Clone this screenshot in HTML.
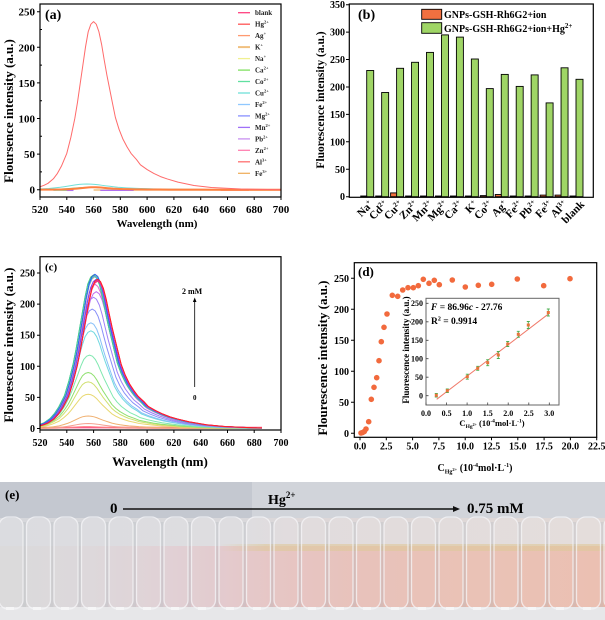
<!DOCTYPE html>
<html><head><meta charset="utf-8"><style>
html,body{margin:0;padding:0;background:#fff;width:605px;height:620px;overflow:hidden}
svg{display:block}
</style></head><body>
<svg width="605" height="620" viewBox="0 0 605 620" xmlns="http://www.w3.org/2000/svg" font-family="'Liberation Serif', serif" font-weight="bold">
<defs>
<clipPath id="ca"><rect x="40" y="4" width="241" height="193"/></clipPath>
<clipPath id="cc"><rect x="40" y="256.7" width="222" height="173.3"/></clipPath>
<linearGradient id="liq" x1="0" x2="1" y1="0" y2="0">
<stop offset="0" stop-color="#d5d4d5"/><stop offset="0.15" stop-color="#d8d2d5"/><stop offset="0.26" stop-color="#dbcbd0"/><stop offset="0.36" stop-color="#dfc3c7"/><stop offset="0.45" stop-color="#e2bdbc"/><stop offset="0.6" stop-color="#e5b9b0"/><stop offset="0.8" stop-color="#e7b8aa"/><stop offset="1" stop-color="#e8b6a6"/>
</linearGradient>
<linearGradient id="upp" x1="0" x2="1" y1="0" y2="0">
<stop offset="0" stop-color="#d6d7db"/><stop offset="0.4" stop-color="#d9d8db"/><stop offset="0.5" stop-color="#ddd7d8"/><stop offset="1" stop-color="#e0d8d6"/>
</linearGradient>
<linearGradient id="yb" x1="0" x2="1" y1="0" y2="0">
<stop offset="0" stop-color="#d9c08a" stop-opacity="0"/><stop offset="0.12" stop-color="#d9c08a" stop-opacity="0.6"/><stop offset="1" stop-color="#d9c08a" stop-opacity="0.6"/>
</linearGradient>
</defs>

<!-- ================= PANEL (a) ================= -->
<g clip-path="url(#ca)" fill="none" stroke-linejoin="round">
<line x1="93.6" y1="190" x2="281" y2="190" stroke="#f0c080" stroke-width="1.5"/>
<line x1="220.8" y1="190" x2="248.9" y2="190" stroke="#ff6060" stroke-width="1.5"/>
<line x1="53.4" y1="190" x2="73.5" y2="190" stroke="#40c080" stroke-width="1.5"/>
<line x1="66.8" y1="190.4" x2="73.5" y2="190.4" stroke="#b070f0" stroke-width="1.3"/>
<line x1="100.3" y1="190.4" x2="133.7" y2="190.4" stroke="#b070f0" stroke-width="1.3"/>
<path d="M-60 0L-50-.006L-44-.011L-40-.017L-37-.026L-34-.038L-30-.065L-27-.097L-24-.14L-20-.216L-17-.31L-14-.424L-12-.52L-10-.631L-8-.74L-6-.85L-4-.94L-2-.985L0-1L2-.985L4-.94L6-.865L8-.77L10-.68L12-.6L14-.52L16.3-.43L19-.36L22-.3L25-.255L28-.216L32-.18L35-.148L40-.12L45-.097L50-.078L55-.064L63-.045L75-.025L88-.013L110-.004L140 0L200 0" transform="translate(86.87,189.7) scale(1.9,5.7)" stroke="#70e0d8" vector-effect="non-scaling-stroke"/>
<path d="M-60 0L-50-.006L-44-.011L-40-.017L-37-.026L-34-.038L-30-.065L-27-.097L-24-.14L-20-.216L-17-.31L-14-.424L-12-.52L-10-.631L-8-.74L-6-.85L-4-.94L-2-.985L0-1L2-.985L4-.94L6-.865L8-.77L10-.68L12-.6L14-.52L16.3-.43L19-.36L22-.3L25-.255L28-.216L32-.18L35-.148L40-.12L45-.097L50-.078L55-.064L63-.045L75-.025L88-.013L110-.004L140 0L200 0" transform="translate(88.2,189.7) scale(1.6,2.3)" stroke="#70d070" vector-effect="non-scaling-stroke"/>
<path d="M-60 0L-50-.006L-44-.011L-40-.017L-37-.026L-34-.038L-30-.065L-27-.097L-24-.14L-20-.216L-17-.31L-14-.424L-12-.52L-10-.631L-8-.74L-6-.85L-4-.94L-2-.985L0-1L2-.985L4-.94L6-.865L8-.77L10-.68L12-.6L14-.52L16.3-.43L19-.36L22-.3L25-.255L28-.216L32-.18L35-.148L40-.12L45-.097L50-.078L55-.064L63-.045L75-.025L88-.013L110-.004L140 0L200 0" transform="translate(93.56,189.7) scale(1.2,2.5)" stroke="#ff8040" stroke-width="2" vector-effect="non-scaling-stroke"/>
<path d="M-60 0L-50-.006L-44-.011L-40-.017L-37-.026L-34-.038L-30-.065L-27-.097L-24-.14L-20-.216L-17-.31L-14-.424L-12-.52L-10-.631L-8-.74L-6-.85L-4-.94L-2-.985L0-1L2-.985L4-.94L6-.865L8-.77L10-.68L12-.6L14-.52L16.3-.43L19-.36L22-.3L25-.255L28-.216L32-.18L35-.148L40-.12L45-.097L50-.078L55-.064L63-.045L75-.025L88-.013L110-.004L140 0L200 0" transform="translate(93.56,189.7) scale(1.339,168.03)" stroke="#ff6a6a" vector-effect="non-scaling-stroke"/>
</g>
<rect x="40" y="4" width="241" height="193" fill="none" stroke="#000" stroke-width="1.2"/>
<path d="M37 189.7H40M37 154.1H40M37 118.5H40M37 82.9H40M37 47.3H40M37 11.7H40M40 171.9H42M40 136.3H42M40 100.7H42M40 65.1H42M40 29.5H42M40 197V200M66.8 197V200M93.6 197V200M120.3 197V200M147.1 197V200M173.9 197V200M200.7 197V200M227.5 197V200M254.2 197V200M281 197V200" stroke="#000" stroke-width="1"/>
<g font-size="11" text-anchor="end">
<text x="35" y="193.7">0</text><text x="35" y="158.1">50</text><text x="35" y="122.5">100</text><text x="35" y="86.9">150</text><text x="35" y="51.3">200</text><text x="35" y="15.7">250</text>
</g>
<g font-size="11" text-anchor="middle">
<text x="40" y="213">520</text><text x="66.8" y="213">540</text><text x="93.6" y="213">560</text><text x="120.3" y="213">580</text><text x="147.1" y="213">600</text><text x="173.9" y="213">620</text><text x="200.7" y="213">640</text><text x="227.5" y="213">660</text><text x="254.2" y="213">680</text><text x="281" y="213">700</text>
</g>
<text x="157" y="227" font-size="11" text-anchor="middle">Wavelength (nm)</text>
<text transform="translate(13,111) rotate(-90)" font-size="13" text-anchor="middle">Floursence intensity (a.u.)</text>
<text x="45" y="19" font-size="14">(a)</text>
<!-- legend (a) -->
<g stroke-width="1.3" fill="none">
<line x1="238" y1="12.7" x2="250" y2="12.7" stroke="#ff4080"/>
<line x1="238" y1="24.2" x2="250" y2="24.2" stroke="#ff5555"/>
<line x1="238" y1="35.6" x2="250" y2="35.6" stroke="#ff9a70"/>
<line x1="238" y1="47.1" x2="250" y2="47.1" stroke="#f0c080" stroke-width="2"/>
<line x1="238" y1="58.6" x2="250" y2="58.6" stroke="#f0f090"/>
<line x1="238" y1="70.1" x2="250" y2="70.1" stroke="#80e060"/>
<line x1="238" y1="81.5" x2="250" y2="81.5" stroke="#60e0a0"/>
<line x1="238" y1="93" x2="250" y2="93" stroke="#70e0d8"/>
<line x1="238" y1="104.5" x2="250" y2="104.5" stroke="#90c8ff"/>
<line x1="238" y1="115.9" x2="250" y2="115.9" stroke="#8890ff"/>
<line x1="238" y1="127.4" x2="250" y2="127.4" stroke="#a070f8"/>
<line x1="238" y1="138.9" x2="250" y2="138.9" stroke="#c890f0"/>
<line x1="238" y1="150.3" x2="250" y2="150.3" stroke="#ff80b0"/>
<line x1="238" y1="161.8" x2="250" y2="161.8" stroke="#ff7070"/>
<line x1="238" y1="173.3" x2="250" y2="173.3" stroke="#f0b060"/>
</g>
<g font-size="7" fill="#222">
<text x="255" y="15.2">blank</text>
<text x="255" y="26.7">Hg<tspan dy="-3" font-size="4.5">2+</tspan></text>
<text x="255" y="38.1">Ag<tspan dy="-3" font-size="4.5">+</tspan></text>
<text x="255" y="49.6">K<tspan dy="-3" font-size="4.5">+</tspan></text>
<text x="255" y="61.1">Na<tspan dy="-3" font-size="4.5">+</tspan></text>
<text x="255" y="72.6">Ca<tspan dy="-3" font-size="4.5">2+</tspan></text>
<text x="255" y="84">Co<tspan dy="-3" font-size="4.5">2+</tspan></text>
<text x="255" y="95.5">Cu<tspan dy="-3" font-size="4.5">2+</tspan></text>
<text x="255" y="107">Fe<tspan dy="-3" font-size="4.5">2+</tspan></text>
<text x="255" y="118.4">Mg<tspan dy="-3" font-size="4.5">2+</tspan></text>
<text x="255" y="129.9">Mn<tspan dy="-3" font-size="4.5">2+</tspan></text>
<text x="255" y="141.4">Pb<tspan dy="-3" font-size="4.5">2+</tspan></text>
<text x="255" y="152.8">Zn<tspan dy="-3" font-size="4.5">2+</tspan></text>
<text x="255" y="164.3">Al<tspan dy="-3" font-size="4.5">3+</tspan></text>
<text x="255" y="175.8">Fe<tspan dy="-3" font-size="4.5">3+</tspan></text>
</g>

<!-- ================= PANEL (b) ================= -->
<g stroke="#000" stroke-width="0.9" fill="#9fd566">
<rect x="366.7" y="70.5" width="7" height="126.2"/>
<rect x="381.65" y="92.5" width="7" height="104.2"/>
<rect x="396.6" y="68.3" width="7" height="128.4"/>
<rect x="411.55" y="62.3" width="7" height="134.4"/>
<rect x="426.5" y="52.4" width="7" height="144.3"/>
<rect x="441.45" y="34.9" width="7" height="161.8"/>
<rect x="456.4" y="37.1" width="7" height="159.6"/>
<rect x="471.35" y="59" width="7" height="137.7"/>
<rect x="486.3" y="88.6" width="7" height="108.1"/>
<rect x="501.25" y="74.4" width="7" height="122.3"/>
<rect x="516.2" y="86.4" width="7" height="110.3"/>
<rect x="531.15" y="74.9" width="7" height="121.8"/>
<rect x="546.1" y="102.9" width="7" height="93.8"/>
<rect x="561.05" y="67.8" width="7" height="128.9"/>
<rect x="576" y="79.3" width="7" height="117.4"/>
</g>
<g stroke="#000" stroke-width="0.9" fill="#f07040">
<rect x="360.7" y="196" width="6" height="0.7"/>
<rect x="375.65" y="196" width="6" height="0.7"/>
<rect x="390.6" y="192.9" width="6" height="3.8"/>
<rect x="405.55" y="196" width="6" height="0.7"/>
<rect x="420.5" y="196" width="6" height="0.7"/>
<rect x="435.45" y="196" width="6" height="0.7"/>
<rect x="450.4" y="196" width="6" height="0.7"/>
<rect x="465.35" y="196" width="6" height="0.7"/>
<rect x="480.3" y="195.6" width="6" height="1.1"/>
<rect x="495.25" y="194.5" width="6" height="2.2"/>
<rect x="510.2" y="196" width="6" height="0.7"/>
<rect x="525.15" y="196" width="6" height="0.7"/>
<rect x="540.1" y="195.1" width="6" height="1.6"/>
<rect x="555.05" y="195.1" width="6" height="1.6"/>
<rect x="570" y="196" width="6" height="0.7"/>
</g>
<rect x="349.3" y="4" width="244" height="193.3" fill="none" stroke="#000" stroke-width="1.2"/>
<path d="M346 196.7H349.3M346 169.3H349.3M346 141.8H349.3M346 114.4H349.3M346 87H349.3M346 59.5H349.3M346 32.1H349.3M346 4.7H349.3" stroke="#000" stroke-width="1"/>
<g font-size="10" text-anchor="end">
<text x="345" y="200.2">0</text><text x="345" y="172.8">50</text><text x="345" y="145.3">100</text><text x="345" y="117.9">150</text><text x="345" y="90.5">200</text><text x="345" y="63">250</text><text x="345" y="35.6">300</text><text x="345" y="8.2">350</text>
</g>
<text transform="translate(324,100) rotate(-90)" font-size="11.5" text-anchor="middle">Fluorescence intensity (a.u.)</text>
<text x="358" y="19" font-size="14">(b)</text>
<rect x="421.7" y="9.3" width="20" height="10" fill="#f07040" stroke="#000" stroke-width="0.9"/>
<rect x="421.7" y="22.7" width="20" height="10.6" fill="#9fd566" stroke="#000" stroke-width="0.9"/>
<text x="444" y="18" font-size="10">GNPs-GSH-Rh6G2+ion</text>
<text x="444" y="32" font-size="10">GNPs-GSH-Rh6G2+ion+Hg<tspan dy="-4" font-size="7">2+</tspan></text>
<g font-size="11" text-anchor="end">
<text transform="translate(373.7,205) rotate(-45)">Na<tspan dy="-4" font-size="7">+</tspan></text>
<text transform="translate(388.6,205) rotate(-45)">Cd<tspan dy="-4" font-size="7">2+</tspan></text>
<text transform="translate(403.6,205) rotate(-45)">Cu<tspan dy="-4" font-size="7">2+</tspan></text>
<text transform="translate(418.5,205) rotate(-45)">Zn<tspan dy="-4" font-size="7">2+</tspan></text>
<text transform="translate(433.5,205) rotate(-45)">Mn<tspan dy="-4" font-size="7">2+</tspan></text>
<text transform="translate(448.4,205) rotate(-45)">Mg<tspan dy="-4" font-size="7">2+</tspan></text>
<text transform="translate(463.4,205) rotate(-45)">Ca<tspan dy="-4" font-size="7">2+</tspan></text>
<text transform="translate(478.3,205) rotate(-45)">K<tspan dy="-4" font-size="7">+</tspan></text>
<text transform="translate(493.3,205) rotate(-45)">Co<tspan dy="-4" font-size="7">2+</tspan></text>
<text transform="translate(508.2,205) rotate(-45)">Ag<tspan dy="-4" font-size="7">+</tspan></text>
<text transform="translate(523.2,205) rotate(-45)">Fe<tspan dy="-4" font-size="7">2+</tspan></text>
<text transform="translate(538.1,205) rotate(-45)">Pb<tspan dy="-4" font-size="7">2+</tspan></text>
<text transform="translate(553.1,205) rotate(-45)">Fe<tspan dy="-4" font-size="7">3+</tspan></text>
<text transform="translate(568,205) rotate(-45)">Al<tspan dy="-4" font-size="7">3+</tspan></text>
<text transform="translate(585,205) rotate(-45)">blank</text>
</g>

<!-- ================= PANEL (c) ================= -->
<g clip-path="url(#cc)" fill="none" stroke-linejoin="round">
<line x1="40" y1="427.6" x2="281" y2="427.6" stroke="#ff5a8c" stroke-width="1.6"/>
<g stroke-width="1">
<path transform="translate(86.87,428.5) scale(1.5,1.87)" stroke="#ff8080" vector-effect="non-scaling-stroke" d="M-60 0L-50-.006L-44-.011L-40-.017L-37-.026L-34-.038L-30-.065L-27-.097L-24-.14L-20-.216L-17-.31L-14-.424L-12-.52L-10-.631L-8-.74L-6-.85L-4-.94L-2-.985L0-1L2-.985L4-.94L6-.865L8-.77L10-.68L12-.6L14-.52L16.3-.43L19-.36L22-.3L25-.255L28-.216L32-.18L35-.148L40-.12L45-.097L50-.078L55-.064L63-.045L75-.025L88-.013L110-.004L140 0L200 0"/>
<path transform="translate(88.2,428.5) scale(1.5,4.98)" stroke="#f4a090" vector-effect="non-scaling-stroke" d="M-60 0L-50-.006L-44-.011L-40-.017L-37-.026L-34-.038L-30-.065L-27-.097L-24-.14L-20-.216L-17-.31L-14-.424L-12-.52L-10-.631L-8-.74L-6-.85L-4-.94L-2-.985L0-1L2-.985L4-.94L6-.865L8-.77L10-.68L12-.6L14-.52L16.3-.43L19-.36L22-.3L25-.255L28-.216L32-.18L35-.148L40-.12L45-.097L50-.078L55-.064L63-.045L75-.025L88-.013L110-.004L140 0L200 0"/>
<path transform="translate(88.2,428.5) scale(1.45,12.44)" stroke="#f0b070" vector-effect="non-scaling-stroke" d="M-60 0L-50-.006L-44-.011L-40-.017L-37-.026L-34-.038L-30-.065L-27-.097L-24-.14L-20-.216L-17-.31L-14-.424L-12-.52L-10-.631L-8-.74L-6-.85L-4-.94L-2-.985L0-1L2-.985L4-.94L6-.865L8-.77L10-.68L12-.6L14-.52L16.3-.43L19-.36L22-.3L25-.255L28-.216L32-.18L35-.148L40-.12L45-.097L50-.078L55-.064L63-.045L75-.025L88-.013L110-.004L140 0L200 0"/>
<path transform="translate(88.2,428.5) scale(1.45,34.21)" stroke="#e8d870" vector-effect="non-scaling-stroke" d="M-60 0L-50-.006L-44-.011L-40-.017L-37-.026L-34-.038L-30-.065L-27-.097L-24-.14L-20-.216L-17-.31L-14-.424L-12-.52L-10-.631L-8-.74L-6-.85L-4-.94L-2-.985L0-1L2-.985L4-.94L6-.865L8-.77L10-.68L12-.6L14-.52L16.3-.43L19-.36L22-.3L25-.255L28-.216L32-.18L35-.148L40-.12L45-.097L50-.078L55-.064L63-.045L75-.025L88-.013L110-.004L140 0L200 0"/>
<path transform="translate(88.2,428.5) scale(1.45,46.65)" stroke="#d0e070" vector-effect="non-scaling-stroke" d="M-60 0L-50-.006L-44-.011L-40-.017L-37-.026L-34-.038L-30-.065L-27-.097L-24-.14L-20-.216L-17-.31L-14-.424L-12-.52L-10-.631L-8-.74L-6-.85L-4-.94L-2-.985L0-1L2-.985L4-.94L6-.865L8-.77L10-.68L12-.6L14-.52L16.3-.43L19-.36L22-.3L25-.255L28-.216L32-.18L35-.148L40-.12L45-.097L50-.078L55-.064L63-.045L75-.025L88-.013L110-.004L140 0L200 0"/>
<path transform="translate(88.2,428.5) scale(1.45,55.98)" stroke="#90e070" vector-effect="non-scaling-stroke" d="M-60 0L-50-.006L-44-.011L-40-.017L-37-.026L-34-.038L-30-.065L-27-.097L-24-.14L-20-.216L-17-.31L-14-.424L-12-.52L-10-.631L-8-.74L-6-.85L-4-.94L-2-.985L0-1L2-.985L4-.94L6-.865L8-.77L10-.68L12-.6L14-.52L16.3-.43L19-.36L22-.3L25-.255L28-.216L32-.18L35-.148L40-.12L45-.097L50-.078L55-.064L63-.045L75-.025L88-.013L110-.004L140 0L200 0"/>
<path transform="translate(89.54,428.5) scale(1.45,73.4)" stroke="#80e8b0" vector-effect="non-scaling-stroke" d="M-60 0L-50-.006L-44-.011L-40-.017L-37-.026L-34-.038L-30-.065L-27-.097L-24-.14L-20-.216L-17-.31L-14-.424L-12-.52L-10-.631L-8-.74L-6-.85L-4-.94L-2-.985L0-1L2-.985L4-.94L6-.865L8-.77L10-.68L12-.6L14-.52L16.3-.43L19-.36L22-.3L25-.255L28-.216L32-.18L35-.148L40-.12L45-.097L50-.078L55-.064L63-.045L75-.025L88-.013L110-.004L140 0L200 0"/>
<path transform="translate(90.88,428.5) scale(1.45,97.65)" stroke="#70d8e0" vector-effect="non-scaling-stroke" d="M-60 0L-50-.006L-44-.011L-40-.017L-37-.026L-34-.038L-30-.065L-27-.097L-24-.14L-20-.216L-17-.31L-14-.424L-12-.52L-10-.631L-8-.74L-6-.85L-4-.94L-2-.985L0-1L2-.985L4-.94L6-.865L8-.77L10-.68L12-.6L14-.52L16.3-.43L19-.36L22-.3L25-.255L28-.216L32-.18L35-.148L40-.12L45-.097L50-.078L55-.064L63-.045L75-.025L88-.013L110-.004L140 0L200 0"/>
<path transform="translate(90.88,428.5) scale(1.45,105.74)" stroke="#88c0f8" vector-effect="non-scaling-stroke" d="M-60 0L-50-.006L-44-.011L-40-.017L-37-.026L-34-.038L-30-.065L-27-.097L-24-.14L-20-.216L-17-.31L-14-.424L-12-.52L-10-.631L-8-.74L-6-.85L-4-.94L-2-.985L0-1L2-.985L4-.94L6-.865L8-.77L10-.68L12-.6L14-.52L16.3-.43L19-.36L22-.3L25-.255L28-.216L32-.18L35-.148L40-.12L45-.097L50-.078L55-.064L63-.045L75-.025L88-.013L110-.004L140 0L200 0"/>
<path transform="translate(92.22,428.5) scale(1.45,119.42)" stroke="#8890f8" vector-effect="non-scaling-stroke" d="M-60 0L-50-.006L-44-.011L-40-.017L-37-.026L-34-.038L-30-.065L-27-.097L-24-.14L-20-.216L-17-.31L-14-.424L-12-.52L-10-.631L-8-.74L-6-.85L-4-.94L-2-.985L0-1L2-.985L4-.94L6-.865L8-.77L10-.68L12-.6L14-.52L16.3-.43L19-.36L22-.3L25-.255L28-.216L32-.18L35-.148L40-.12L45-.097L50-.078L55-.064L63-.045L75-.025L88-.013L110-.004L140 0L200 0"/>
<path transform="translate(93.56,428.5) scale(1.45,131.24)" stroke="#a080f8" vector-effect="non-scaling-stroke" d="M-60 0L-50-.006L-44-.011L-40-.017L-37-.026L-34-.038L-30-.065L-27-.097L-24-.14L-20-.216L-17-.31L-14-.424L-12-.52L-10-.631L-8-.74L-6-.85L-4-.94L-2-.985L0-1L2-.985L4-.94L6-.865L8-.77L10-.68L12-.6L14-.52L16.3-.43L19-.36L22-.3L25-.255L28-.216L32-.18L35-.148L40-.12L45-.097L50-.078L55-.064L63-.045L75-.025L88-.013L110-.004L140 0L200 0"/>
<path transform="translate(96.24,428.5) scale(1.45,136.84)" stroke="#c070f0" vector-effect="non-scaling-stroke" d="M-60 0L-50-.006L-44-.011L-40-.017L-37-.026L-34-.038L-30-.065L-27-.097L-24-.14L-20-.216L-17-.31L-14-.424L-12-.52L-10-.631L-8-.74L-6-.85L-4-.94L-2-.985L0-1L2-.985L4-.94L6-.865L8-.77L10-.68L12-.6L14-.52L16.3-.43L19-.36L22-.3L25-.255L28-.216L32-.18L35-.148L40-.12L45-.097L50-.078L55-.064L63-.045L75-.025L88-.013L110-.004L140 0L200 0"/>
<path transform="translate(94.9,428.5) scale(1.45,144.3)" stroke="#e070d0" vector-effect="non-scaling-stroke" d="M-60 0L-50-.006L-44-.011L-40-.017L-37-.026L-34-.038L-30-.065L-27-.097L-24-.14L-20-.216L-17-.31L-14-.424L-12-.52L-10-.631L-8-.74L-6-.85L-4-.94L-2-.985L0-1L2-.985L4-.94L6-.865L8-.77L10-.68L12-.6L14-.52L16.3-.43L19-.36L22-.3L25-.255L28-.216L32-.18L35-.148L40-.12L45-.097L50-.078L55-.064L63-.045L75-.025L88-.013L110-.004L140 0L200 0"/>
<path transform="translate(94.9,428.5) scale(1.45,151.77)" stroke="#ffa050" vector-effect="non-scaling-stroke" d="M-60 0L-50-.006L-44-.011L-40-.017L-37-.026L-34-.038L-30-.065L-27-.097L-24-.14L-20-.216L-17-.31L-14-.424L-12-.52L-10-.631L-8-.74L-6-.85L-4-.94L-2-.985L0-1L2-.985L4-.94L6-.865L8-.77L10-.68L12-.6L14-.52L16.3-.43L19-.36L22-.3L25-.255L28-.216L32-.18L35-.148L40-.12L45-.097L50-.078L55-.064L63-.045L75-.025L88-.013L110-.004L140 0L200 0"/>
<path transform="translate(94.9,428.5) scale(1.45,153.01)" stroke="#e8d040" vector-effect="non-scaling-stroke" d="M-60 0L-50-.006L-44-.011L-40-.017L-37-.026L-34-.038L-30-.065L-27-.097L-24-.14L-20-.216L-17-.31L-14-.424L-12-.52L-10-.631L-8-.74L-6-.85L-4-.94L-2-.985L0-1L2-.985L4-.94L6-.865L8-.77L10-.68L12-.6L14-.52L16.3-.43L19-.36L22-.3L25-.255L28-.216L32-.18L35-.148L40-.12L45-.097L50-.078L55-.064L63-.045L75-.025L88-.013L110-.004L140 0L200 0"/>
<path transform="translate(93.56,428.5) scale(1.45,153.63)" stroke="#50d050" vector-effect="non-scaling-stroke" d="M-60 0L-50-.006L-44-.011L-40-.017L-37-.026L-34-.038L-30-.065L-27-.097L-24-.14L-20-.216L-17-.31L-14-.424L-12-.52L-10-.631L-8-.74L-6-.85L-4-.94L-2-.985L0-1L2-.985L4-.94L6-.865L8-.77L10-.68L12-.6L14-.52L16.3-.43L19-.36L22-.3L25-.255L28-.216L32-.18L35-.148L40-.12L45-.097L50-.078L55-.064L63-.045L75-.025L88-.013L110-.004L140 0L200 0"/>
<path transform="translate(93.56,428.5) scale(1.45,153.01)" stroke="#40c8a0" vector-effect="non-scaling-stroke" d="M-60 0L-50-.006L-44-.011L-40-.017L-37-.026L-34-.038L-30-.065L-27-.097L-24-.14L-20-.216L-17-.31L-14-.424L-12-.52L-10-.631L-8-.74L-6-.85L-4-.94L-2-.985L0-1L2-.985L4-.94L6-.865L8-.77L10-.68L12-.6L14-.52L16.3-.43L19-.36L22-.3L25-.255L28-.216L32-.18L35-.148L40-.12L45-.097L50-.078L55-.064L63-.045L75-.025L88-.013L110-.004L140 0L200 0"/>
<path transform="translate(94.9,428.5) scale(1.45,152.39)" stroke="#40b8f0" vector-effect="non-scaling-stroke" d="M-60 0L-50-.006L-44-.011L-40-.017L-37-.026L-34-.038L-30-.065L-27-.097L-24-.14L-20-.216L-17-.31L-14-.424L-12-.52L-10-.631L-8-.74L-6-.85L-4-.94L-2-.985L0-1L2-.985L4-.94L6-.865L8-.77L10-.68L12-.6L14-.52L16.3-.43L19-.36L22-.3L25-.255L28-.216L32-.18L35-.148L40-.12L45-.097L50-.078L55-.064L63-.045L75-.025L88-.013L110-.004L140 0L200 0"/>
<path transform="translate(94.9,428.5) scale(1.45,154.26)" stroke="#3060f0" vector-effect="non-scaling-stroke" d="M-60 0L-50-.006L-44-.011L-40-.017L-37-.026L-34-.038L-30-.065L-27-.097L-24-.14L-20-.216L-17-.31L-14-.424L-12-.52L-10-.631L-8-.74L-6-.85L-4-.94L-2-.985L0-1L2-.985L4-.94L6-.865L8-.77L10-.68L12-.6L14-.52L16.3-.43L19-.36L22-.3L25-.255L28-.216L32-.18L35-.148L40-.12L45-.097L50-.078L55-.064L63-.045L75-.025L88-.013L110-.004L140 0L200 0"/>
<path transform="translate(96.24,428.5) scale(1.45,149.28)" stroke="#8040f0" vector-effect="non-scaling-stroke" d="M-60 0L-50-.006L-44-.011L-40-.017L-37-.026L-34-.038L-30-.065L-27-.097L-24-.14L-20-.216L-17-.31L-14-.424L-12-.52L-10-.631L-8-.74L-6-.85L-4-.94L-2-.985L0-1L2-.985L4-.94L6-.865L8-.77L10-.68L12-.6L14-.52L16.3-.43L19-.36L22-.3L25-.255L28-.216L32-.18L35-.148L40-.12L45-.097L50-.078L55-.064L63-.045L75-.025L88-.013L110-.004L140 0L200 0"/>
<path transform="translate(97.58,428.5) scale(1.45,148.04)" stroke="#c030d0" vector-effect="non-scaling-stroke" d="M-60 0L-50-.006L-44-.011L-40-.017L-37-.026L-34-.038L-30-.065L-27-.097L-24-.14L-20-.216L-17-.31L-14-.424L-12-.52L-10-.631L-8-.74L-6-.85L-4-.94L-2-.985L0-1L2-.985L4-.94L6-.865L8-.77L10-.68L12-.6L14-.52L16.3-.43L19-.36L22-.3L25-.255L28-.216L32-.18L35-.148L40-.12L45-.097L50-.078L55-.064L63-.045L75-.025L88-.013L110-.004L140 0L200 0"/>
<path transform="translate(97.58,428.5) scale(1.45,147.41)" stroke="#ff3070" vector-effect="non-scaling-stroke" d="M-60 0L-50-.006L-44-.011L-40-.017L-37-.026L-34-.038L-30-.065L-27-.097L-24-.14L-20-.216L-17-.31L-14-.424L-12-.52L-10-.631L-8-.74L-6-.85L-4-.94L-2-.985L0-1L2-.985L4-.94L6-.865L8-.77L10-.68L12-.6L14-.52L16.3-.43L19-.36L22-.3L25-.255L28-.216L32-.18L35-.148L40-.12L45-.097L50-.078L55-.064L63-.045L75-.025L88-.013L110-.004L140 0L200 0"/>
<path transform="translate(97.58,428.5) scale(1.45,149.28)" stroke="#ff2020" vector-effect="non-scaling-stroke" d="M-60 0L-50-.006L-44-.011L-40-.017L-37-.026L-34-.038L-30-.065L-27-.097L-24-.14L-20-.216L-17-.31L-14-.424L-12-.52L-10-.631L-8-.74L-6-.85L-4-.94L-2-.985L0-1L2-.985L4-.94L6-.865L8-.77L10-.68L12-.6L14-.52L16.3-.43L19-.36L22-.3L25-.255L28-.216L32-.18L35-.148L40-.12L45-.097L50-.078L55-.064L63-.045L75-.025L88-.013L110-.004L140 0L200 0"/>
</g>
</g>
<rect x="40" y="256.7" width="241" height="173.3" fill="none" stroke="#000" stroke-width="1.2"/>
<path d="M37 428.5H40M37 397.4H40M37 366.3H40M37 335.2H40M37 304.1H40M37 273H40M40 430V433M66.8 430V433M93.6 430V433M120.3 430V433M147.1 430V433M173.9 430V433M200.7 430V433M227.5 430V433M254.2 430V433M281 430V433" stroke="#000" stroke-width="1"/>
<g font-size="10" text-anchor="end">
<text x="35" y="432">0</text><text x="35" y="400.9">50</text><text x="35" y="369.8">100</text><text x="35" y="338.7">150</text><text x="35" y="307.6">200</text><text x="35" y="276.5">250</text>
</g>
<g font-size="10" text-anchor="middle">
<text x="40" y="446">520</text><text x="66.8" y="446">540</text><text x="93.6" y="446">560</text><text x="120.3" y="446">580</text><text x="147.1" y="446">600</text><text x="173.9" y="446">620</text><text x="200.7" y="446">640</text><text x="227.5" y="446">660</text><text x="254.2" y="446">680</text><text x="281" y="446">700</text>
</g>
<text x="160" y="466" font-size="13" text-anchor="middle">Wavelength (nm)</text>
<text transform="translate(13,345) rotate(-90)" font-size="13" text-anchor="middle">Flourescence intensity (a.u.)</text>
<text x="45" y="270.5" font-size="11">(c)</text>
<text x="182" y="294" font-size="8">2 mM</text>
<line x1="194.7" y1="387" x2="194.7" y2="301" stroke="#000" stroke-width="0.8"/>
<polygon points="192.9,302 194.7,297.5 196.5,302" fill="#000"/>
<text x="194.7" y="400" font-size="7" text-anchor="middle">0</text>

<!-- ================= PANEL (d) ================= -->
<g fill="#f26a3d">
<circle cx="361" cy="433" r="2.8"/><circle cx="362.6" cy="432.5" r="2.8"/><circle cx="364.3" cy="431.5" r="2.8"/><circle cx="366" cy="429" r="2.8"/><circle cx="368.7" cy="421.7" r="2.8"/><circle cx="371.3" cy="399.3" r="2.8"/><circle cx="374" cy="387.3" r="2.8"/><circle cx="376.7" cy="377.7" r="2.8"/><circle cx="379" cy="360.7" r="2.8"/><circle cx="381.3" cy="341.7" r="2.8"/><circle cx="384" cy="327.3" r="2.8"/><circle cx="387" cy="314" r="2.8"/><circle cx="392.3" cy="295.3" r="2.8"/><circle cx="397.7" cy="296.3" r="2.8"/><circle cx="402.7" cy="290" r="2.8"/><circle cx="408" cy="287.7" r="2.8"/><circle cx="413.3" cy="287.7" r="2.8"/><circle cx="418.3" cy="285.7" r="2.8"/><circle cx="423.3" cy="279.3" r="2.8"/><circle cx="429" cy="283.3" r="2.8"/><circle cx="434.3" cy="280.3" r="2.8"/><circle cx="439.3" cy="284.7" r="2.8"/><circle cx="452.3" cy="280" r="2.8"/><circle cx="465.3" cy="287" r="2.8"/><circle cx="478.3" cy="285.3" r="2.8"/><circle cx="491.7" cy="284.3" r="2.8"/><circle cx="517.3" cy="279" r="2.8"/><circle cx="543.7" cy="285.7" r="2.8"/><circle cx="570" cy="278.7" r="2.8"/>
</g>
<rect x="354.3" y="262.7" width="242.4" height="174.6" fill="none" stroke="#000" stroke-width="1.2"/>
<path d="M351 433.3H354.3M351 402.3H354.3M351 371.3H354.3M351 340.3H354.3M351 309.3H354.3M351 278.3H354.3M360 437.3V440.3M386.3 437.3V440.3M412.6 437.3V440.3M438.9 437.3V440.3M465.2 437.3V440.3M491.5 437.3V440.3M517.8 437.3V440.3M544.1 437.3V440.3M570.4 437.3V440.3M596.7 437.3V440.3" stroke="#000" stroke-width="1"/>
<g font-size="10" text-anchor="end">
<text x="349" y="436.8">0</text><text x="349" y="405.8">50</text><text x="349" y="374.8">100</text><text x="349" y="343.8">150</text><text x="349" y="312.8">200</text><text x="349" y="281.8">250</text>
</g>
<g font-size="10" text-anchor="middle">
<text x="360" y="449.5">0.0</text><text x="386.3" y="449.5">2.5</text><text x="412.6" y="449.5">5.0</text><text x="438.9" y="449.5">7.5</text><text x="465.2" y="449.5">10.0</text><text x="491.5" y="449.5">12.5</text><text x="517.8" y="449.5">15.0</text><text x="544.1" y="449.5">17.5</text><text x="570.4" y="449.5">20.0</text><text x="596.7" y="449.5">22.5</text>
</g>
<text x="475" y="471" font-size="10" text-anchor="middle">C<tspan dy="2.5" font-size="6">Hg<tspan dy="-2.5" font-size="4.5">2+</tspan></tspan><tspan dy="0"> (10</tspan><tspan dy="-4" font-size="6">-4</tspan><tspan dy="4">mol·L</tspan><tspan dy="-4" font-size="6">-1</tspan><tspan dy="4">)</tspan></text>
<text transform="translate(327,358) rotate(-90)" font-size="13" text-anchor="middle">Flourescence intensity (a.u.)</text>
<text x="358" y="276" font-size="13">(d)</text>
<!-- inset -->
<rect x="426" y="298.3" width="133" height="106.7" fill="#fff" stroke="#666" stroke-width="1"/>
<line x1="436.7" y1="399.3" x2="549.3" y2="313.3" stroke="#f07a6a" stroke-width="1"/>
<g stroke="#4caf50" stroke-width="0.9">
<path d="M436.3 393.5V397M434.8 393.5H437.8M434.8 397H437.8"/>
<path d="M447.3 389V392.5M445.8 389H448.8M445.8 392.5H448.8"/>
<path d="M467.3 374.2V379.2M465.8 374.2H468.8M465.8 379.2H468.8"/>
<path d="M477.7 366.3V370.3M476.2 366.3H479.2M476.2 370.3H479.2"/>
<path d="M487.7 359.7V365.7M486.2 359.7H489.2M486.2 365.7H489.2"/>
<path d="M498.3 351.5V358.5M496.8 351.5H499.8M496.8 358.5H499.8"/>
<path d="M507.7 341.5V346.5M506.2 341.5H509.2M506.2 346.5H509.2"/>
<path d="M518.3 331.3V337.3M516.8 331.3H519.8M516.8 337.3H519.8"/>
<path d="M528.3 321.5V328.5M526.8 321.5H529.8M526.8 328.5H529.8"/>
<path d="M548.3 309V316M546.8 309H549.8M546.8 316H549.8"/>
</g>
<g fill="#e8733a">
<rect x="434.8" y="393.8" width="3" height="3"/><rect x="445.8" y="389.2" width="3" height="3"/><rect x="465.8" y="375.2" width="3" height="3"/><rect x="476.2" y="366.8" width="3" height="3"/><rect x="486.2" y="361.2" width="3" height="3"/><rect x="496.8" y="353.5" width="3" height="3"/><rect x="506.2" y="342.5" width="3" height="3"/><rect x="516.8" y="332.8" width="3" height="3"/><rect x="526.8" y="323.5" width="3" height="3"/><rect x="546.8" y="311" width="3" height="3"/>
</g>
<path d="M426 395.7H428.5M426 377.2H428.5M426 358.7H428.5M426 340.3H428.5M426 321.8H428.5M426 303.3H428.5M426 405V402.5M446.6 405V402.5M467.1 405V402.5M487.7 405V402.5M508.2 405V402.5M528.8 405V402.5M549.3 405V402.5" stroke="#444" stroke-width="0.8"/>
<g font-size="8" text-anchor="end">
<text x="423" y="398.5">0</text><text x="423" y="380">50</text><text x="423" y="361.5">100</text><text x="423" y="343.1">150</text><text x="423" y="324.6">200</text><text x="423" y="306.1">250</text>
</g>
<g font-size="8" text-anchor="middle">
<text x="426" y="416">0.0</text><text x="446.6" y="416">0.5</text><text x="467.1" y="416">1.0</text><text x="487.7" y="416">1.5</text><text x="508.2" y="416">2.0</text><text x="528.8" y="416">2.5</text><text x="549.3" y="416">3.0</text>
</g>
<text transform="translate(409,350) rotate(-90)" font-size="9" text-anchor="middle">Fluorescence intensity (a.u.)</text>
<text x="492" y="426" font-size="8.5" text-anchor="middle">C<tspan dy="2" font-size="5.5">Hg<tspan dy="-2" font-size="4">2+</tspan></tspan><tspan dy="0"> (10</tspan><tspan dy="-3.5" font-size="5.5">-4</tspan><tspan dy="3.5">mol·L</tspan><tspan dy="-3.5" font-size="5.5">-1</tspan><tspan dy="3.5">)</tspan></text>
<text x="431" y="310" font-size="9.5"><tspan font-style="italic">F</tspan> = 86.96<tspan font-style="italic">c</tspan> - 27.76</text>
<text x="431" y="324" font-size="9.5">R<tspan dy="-3.5" font-size="6">2</tspan><tspan dy="3.5"> = 0.9914</tspan></text>

<!-- ================= PANEL (e) photo ================= -->
<rect x="0" y="482" width="252" height="38" fill="#c4c8d0"/>
<rect x="252" y="482" width="353" height="38" fill="#d1d4da"/>
<rect x="0" y="518" width="605" height="30" fill="url(#upp)"/>
<rect x="0" y="546" width="605" height="62" fill="url(#liq)"/>
<rect x="220" y="544" width="385" height="7" fill="url(#yb)"/>
<rect x="0" y="607" width="605" height="13" fill="#e7e7e9"/>
<!-- gaps between tubes -->
<g fill="#b8bcc4" fill-opacity="0.35">
<rect x="22.5" y="522" width="3.5" height="85"/><rect x="50" y="522" width="3.5" height="85"/><rect x="77.5" y="522" width="3.5" height="85"/><rect x="105" y="522" width="3.5" height="85"/><rect x="132.5" y="522" width="3.5" height="85"/><rect x="160" y="522" width="3.5" height="85"/><rect x="187.5" y="522" width="3.5" height="85"/><rect x="215" y="522" width="3.5" height="85"/><rect x="242.5" y="522" width="3.5" height="85"/><rect x="270" y="522" width="3.5" height="85"/><rect x="297.5" y="522" width="3.5" height="85"/><rect x="325" y="522" width="3.5" height="85"/><rect x="352.5" y="522" width="3.5" height="85"/><rect x="380" y="522" width="3.5" height="85"/><rect x="407.5" y="522" width="3.5" height="85"/><rect x="435" y="522" width="3.5" height="85"/><rect x="462.5" y="522" width="3.5" height="85"/><rect x="490" y="522" width="3.5" height="85"/><rect x="517.5" y="522" width="3.5" height="85"/><rect x="545" y="522" width="3.5" height="85"/><rect x="572.5" y="522" width="3.5" height="85"/><rect x="600" y="522" width="3.5" height="85"/>
</g>
<g fill="#ffffff" fill-opacity="0.14" stroke="#f6f6f8" stroke-opacity="0.75" stroke-width="1.3">
<rect x="-1" y="517" width="24" height="92" rx="9" ry="9"/>
<rect x="26.5" y="517" width="24" height="92" rx="9" ry="9"/>
<rect x="54" y="517" width="24" height="92" rx="9" ry="9"/>
<rect x="81.5" y="517" width="24" height="92" rx="9" ry="9"/>
<rect x="109" y="517" width="24" height="92" rx="9" ry="9"/>
<rect x="136.5" y="517" width="24" height="92" rx="9" ry="9"/>
<rect x="164" y="517" width="24" height="92" rx="9" ry="9"/>
<rect x="191.5" y="517" width="24" height="92" rx="9" ry="9"/>
<rect x="219" y="517" width="24" height="92" rx="9" ry="9"/>
<rect x="246.5" y="517" width="24" height="92" rx="9" ry="9"/>
<rect x="274" y="517" width="24" height="92" rx="9" ry="9"/>
<rect x="301.5" y="517" width="24" height="92" rx="9" ry="9"/>
<rect x="329" y="517" width="24" height="92" rx="9" ry="9"/>
<rect x="356.5" y="517" width="24" height="92" rx="9" ry="9"/>
<rect x="384" y="517" width="24" height="92" rx="9" ry="9"/>
<rect x="411.5" y="517" width="24" height="92" rx="9" ry="9"/>
<rect x="439" y="517" width="24" height="92" rx="9" ry="9"/>
<rect x="466.5" y="517" width="24" height="92" rx="9" ry="9"/>
<rect x="494" y="517" width="24" height="92" rx="9" ry="9"/>
<rect x="521.5" y="517" width="24" height="92" rx="9" ry="9"/>
<rect x="549" y="517" width="24" height="92" rx="9" ry="9"/>
<rect x="576.5" y="517" width="24" height="92" rx="9" ry="9"/>
<rect x="604" y="517" width="24" height="92" rx="9" ry="9"/>
</g>
<g fill="#f6f6f7">
<rect x="6" y="607" width="8" height="3"/><rect x="33" y="607" width="8" height="3"/><rect x="61" y="607" width="8" height="3"/><rect x="88" y="607" width="8" height="3"/><rect x="116" y="607" width="8" height="3"/><rect x="143" y="607" width="8" height="3"/><rect x="171" y="607" width="8" height="3"/><rect x="198" y="607" width="8" height="3"/><rect x="226" y="607" width="8" height="3"/><rect x="253" y="607" width="8" height="3"/><rect x="281" y="607" width="8" height="3"/><rect x="308" y="607" width="8" height="3"/><rect x="336" y="607" width="8" height="3"/><rect x="363" y="607" width="8" height="3"/><rect x="391" y="607" width="8" height="3"/><rect x="418" y="607" width="8" height="3"/><rect x="446" y="607" width="8" height="3"/><rect x="473" y="607" width="8" height="3"/><rect x="501" y="607" width="8" height="3"/><rect x="528" y="607" width="8" height="3"/><rect x="556" y="607" width="8" height="3"/><rect x="583" y="607" width="8" height="3"/>
</g>
<text x="5" y="499" font-size="13">(e)</text>
<text x="110" y="513" font-size="15">0</text>
<line x1="123" y1="509" x2="455" y2="509" stroke="#111" stroke-width="1.5"/>
<polygon points="453,506 460,509 453,512" fill="#111"/>
<text x="268" y="504" font-size="14">Hg<tspan dy="-6" font-size="9">2+</tspan></text>
<text x="467" y="513" font-size="15">0.75 mM</text>
</svg>
</body></html>
